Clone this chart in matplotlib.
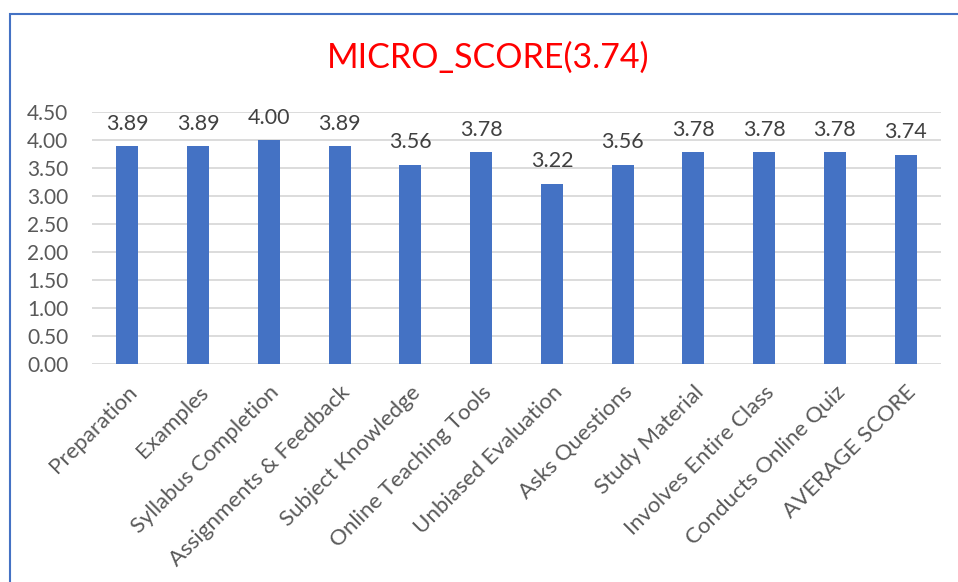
import matplotlib
matplotlib.use("Agg")
import matplotlib.pyplot as plt
from matplotlib.patches import Rectangle

categories = ["Preparation", "Examples", "Syllabus Completion", "Assignments & Feedback",
              "Subject Knowledge", "Online Teaching Tools", "Unbiased Evaluation",
              "Asks Questions", "Study Material", "Involves Entire Class",
              "Conducts Online Quiz", "AVERAGE SCORE"]
values = [3.89, 3.89, 4.00, 3.89, 3.56, 3.78, 3.22, 3.56, 3.78, 3.78, 3.78, 3.74]
yticks = [0.0, 0.5, 1.0, 1.5, 2.0, 2.5, 3.0, 3.5, 4.0, 4.5]
title = "MICRO_SCORE(3.74)"

plt.rcParams['font.family'] = ['Lato', 'DejaVu Sans']
W, H = 958, 582
fig = plt.figure(figsize=(W / 100, H / 100), dpi=100)
ax = fig.add_axes([92 / W, 1 - 364 / H, (941 - 92) / W, (364 - 112) / H])

x = list(range(len(categories)))
ax.bar(x, values, width=0.31, color="#4472C4", zorder=3)
ax.set_xlim(-0.5, len(categories) - 0.5)
ax.set_ylim(0, 4.5)
ax.set_yticks(yticks)
ax.set_yticklabels([f"{v:.2f}" for v in yticks], fontsize=15, color="#595959")
ax.yaxis.grid(True, color="#D9D9D9", linewidth=1.3, zorder=0)
ax.set_xticks(x)
ax.set_xticklabels(categories, rotation=45, ha="right", rotation_mode="anchor",
                   fontsize=16, color="#595959")
ax.tick_params(axis="both", length=0)
ax.tick_params(axis="x", pad=13)
ax.tick_params(axis="y", pad=17)
for s in ax.spines.values():
    s.set_visible(False)

for xi, v in zip(x, values):
    ax.annotate(f"{v:.2f}", (xi, v), xytext=(0, 9), textcoords="offset points",
                ha="center", va="bottom", fontsize=15.5, color="#404040")

fig.text(488 / W, 1 - 58 / H, title, ha="center", va="center", fontsize=24.5, color="#FF0000")

fig.patches.append(Rectangle((9.5 / W, -0.1), 1.2, 1 - 13.5 / H + 0.1,
                             transform=fig.transFigure, fill=False,
                             edgecolor="#4472C4", linewidth=1.5))

fig.savefig("out.png", dpi=100)
